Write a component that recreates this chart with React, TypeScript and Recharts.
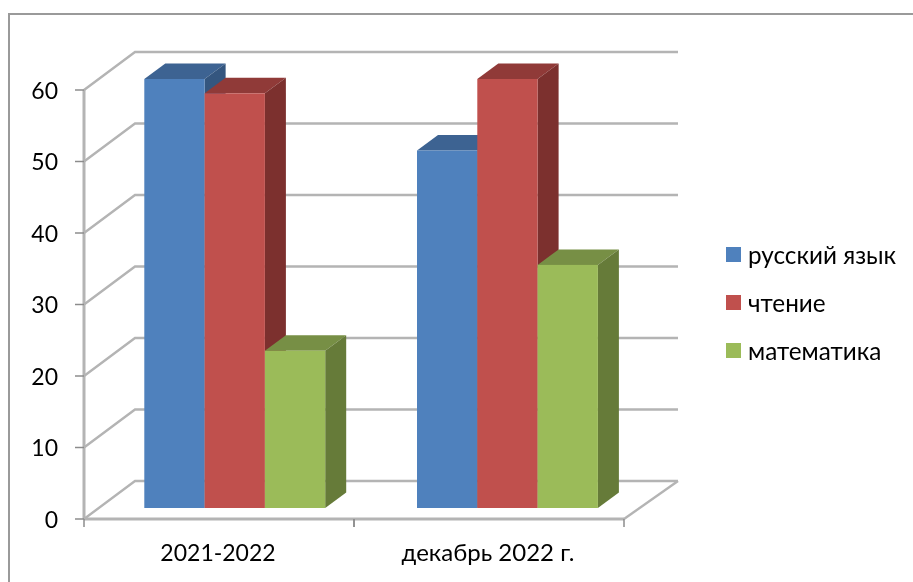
import React from "react";
import { BarChart, Bar, XAxis, YAxis, CartesianGrid, Legend } from "recharts";

const categories = ["2021-2022", "декабрь 2022 г."];
const russian = [60, 50];
const reading = [58, 60];
const maths = [22, 34];
const yTicks = [0, 10, 20, 30, 40, 50, 60];

const seriesNames = ["русский язык", "чтение", "математика"];
const frontColors = ["#4F81BD", "#C0504D", "#9BBB59"];
const topColors = ["#3D6392", "#903A38", "#778F45"];
const sideColors = ["#34567F", "#7C302E", "#667B39"];

const data = categories.map((name, i) => ({
  name,
  russian: russian[i],
  reading: reading[i],
  maths: maths[i],
}));

const WIDTH = 913;
const HEIGHT = 582;
const LEFT = 84;
const TOP = 90;
const RIGHT = 624;
const BOTTOM = 519;
const WALL_DX = 51;
const WALL_DX_RIGHT = 54;
const WALL_DY = -38;
const BAR_DX = 17;
const BAR_DY = -11;
const DEPTH_X = 21;
const DEPTH_Y = -15.5;
const GRID = "#B4B4B4";
const FONT = "Lato, 'Open Sans', sans-serif";
const TEXT_SIZE = 23;
const LEGEND_SIZE = 24.3;

function GridLine(props: any) {
  const { x1, x2, y1 } = props;
  const backY = y1 + WALL_DY;
  return (
    <g fill="none" stroke={GRID} strokeWidth={2.4}>
      <polyline points={`${x1},${y1} ${x1 + WALL_DX},${backY} ${x2 + WALL_DX_RIGHT},${backY}`} />
      {Math.abs(y1 - BOTTOM) < 1 && <line x1={x2} y1={y1} x2={x2 + WALL_DX_RIGHT} y2={backY} />}
    </g>
  );
}

function YTick(props: any) {
  const { y, payload } = props;
  return (
    <g>
      <line x1={LEFT - 9} y1={y} x2={LEFT} y2={y} stroke="#8C8C8C" strokeWidth={1.5} />
      <text x={58} y={y + 8.7} textAnchor="end" fontFamily={FONT} fontSize={TEXT_SIZE} fill="#000">
        {payload.value}
      </text>
    </g>
  );
}

function XTick(props: any) {
  const { x, y, payload, index } = props;
  const half = (RIGHT - LEFT) / 4;
  return (
    <g>
      <line x1={x - half} y1={y} x2={x - half} y2={y + 8} stroke="#8C8C8C" strokeWidth={1.5} />
      <line x1={x + half} y1={y} x2={x + half} y2={y + 8} stroke="#8C8C8C" strokeWidth={1.5} />
      <text x={x - 1} y={y + 42} textAnchor="middle" fontFamily={FONT} fontSize={index === 1 ? 24 : TEXT_SIZE} fill="#000">
        {payload.value}
      </text>
    </g>
  );
}

function box(index: number) {
  return (props: any) => {
    const { x, y, width, height } = props;
    const l = x + BAR_DX;
    const r = l + width;
    const t = y + BAR_DY;
    const b = t + height;
    return (
      <g>
        <polygon
          points={`${l},${t} ${l + DEPTH_X},${t + DEPTH_Y} ${r + DEPTH_X},${t + DEPTH_Y} ${r},${t}`}
          fill={topColors[index]}
        />
        <polygon
          points={`${r},${t} ${r + DEPTH_X},${t + DEPTH_Y} ${r + DEPTH_X},${b + DEPTH_Y} ${r},${b}`}
          fill={sideColors[index]}
        />
        <rect x={l} y={t} width={width} height={height} fill={frontColors[index]} />
      </g>
    );
  };
}

function LegendBox(props: any) {
  const { payload = [] } = props;
  return (
    <div>
      {payload.map((item: any) => (
        <div
          key={item.value}
          style={{ display: "flex", alignItems: "center", height: 48, fontFamily: FONT, fontSize: LEGEND_SIZE, color: "#000" }}
        >
          <span style={{ width: 15, height: 15, background: item.color, marginRight: 7, flex: "none" }} />
          {item.value}
        </div>
      ))}
    </div>
  );
}

export default function App() {
  return (
    <div style={{ position: "absolute", left: 0, top: 0, width: WIDTH, height: HEIGHT, background: "#fff", overflow: "hidden" }}>
      <div
        style={{
          position: "absolute",
          left: 8,
          top: 13,
          width: WIDTH,
          height: HEIGHT,
          borderTop: "2px solid #9A9A9A",
          borderLeft: "2px solid #9A9A9A",
        }}
      />
      <div style={{ position: "absolute", left: 0, top: 0, filter: "blur(0.4px)" }}>
        <BarChart
          width={WIDTH}
          height={HEIGHT}
          data={data}
          barSize={60.3}
          barGap={0}
          margin={{ top: TOP, right: WIDTH - RIGHT, bottom: 0, left: 0 }}
        >
          <CartesianGrid vertical={false} horizontal={GridLine} />
          <XAxis
            dataKey="name"
            height={HEIGHT - BOTTOM}
            axisLine={{ stroke: GRID, strokeWidth: 3 }}
            tickLine={false}
            tickSize={0}
            tickMargin={0}
            interval={0}
            tick={XTick}
          />
          <XAxis dataKey="name" xAxisId="bars" hide padding={{ left: -2.7, right: -2.7 }} />
          <YAxis
            width={LEFT}
            domain={[0, 60]}
            ticks={yTicks}
            axisLine={{ stroke: GRID, strokeWidth: 3 }}
            tickLine={false}
            tick={YTick}
          />
          <Bar xAxisId="bars" dataKey="russian" name={seriesNames[0]} fill={frontColors[0]} shape={box(0)} isAnimationActive={false} />
          <Bar xAxisId="bars" dataKey="reading" name={seriesNames[1]} fill={frontColors[1]} shape={box(1)} isAnimationActive={false} />
          <Bar xAxisId="bars" dataKey="maths" name={seriesNames[2]} fill={frontColors[2]} shape={box(2)} isAnimationActive={false} />
          <Legend
            layout="vertical"
            align="center"
            verticalAlign="middle"
            itemSorter={null}
            wrapperStyle={{ left: 726, top: 230, width: 187 }}
            content={LegendBox}
          />
        </BarChart>
      </div>
    </div>
  );
}
